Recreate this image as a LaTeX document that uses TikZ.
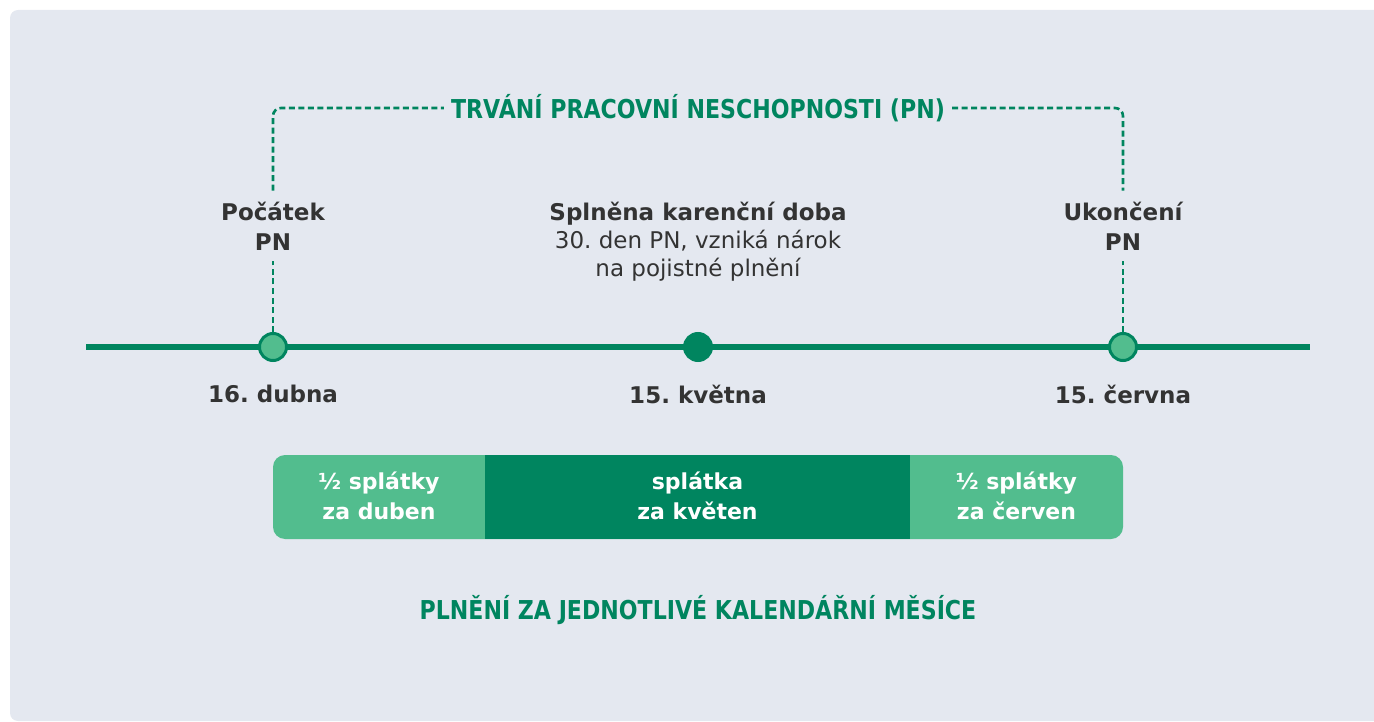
\documentclass[tikz,border=0pt]{standalone}
\usepackage{fontspec}
\setmainfont{DejaVu Sans}
\newfontfamily\headfont{DejaVu Sans}[FakeStretch=0.85]
\usetikzlibrary{positioning}
\definecolor{pnpanel}{HTML}{E4E8F0}
\definecolor{pndark}{HTML}{00855F}
\definecolor{pnlight}{HTML}{52BD8E}
\definecolor{pntext}{HTML}{333333}
\frenchspacing

\begin{document}
\begin{tikzpicture}[x=1pt,y=-1pt,
    dot/.style={circle,draw=pndark,line width=3pt,fill=pnlight,minimum size=27pt,inner sep=0pt},
    lbl/.style={text=pntext,align=center,font=\fontsize{23}{30}\selectfont\bfseries,inner xsep=4pt,inner ysep=11pt},
    datelbl/.style={text=pntext,font=\fontsize{23}{28}\selectfont\bfseries},
    head/.style={text=pndark,font=\headfont\bfseries\fontsize{26}{30}\selectfont,inner xsep=7pt},
    bartxt/.style={text=white,align=center,font=\fontsize{22}{30}\selectfont\bfseries},
    dashline/.style={pndark,line width=2.6pt,dash pattern=on 6pt off 3.5pt}]
    \useasboundingbox (0,0) rectangle (1374,722);
    \clip (0,0) rectangle (1374,722);
    \fill[pnpanel,rounded corners=8pt] (10,10) rectangle (1400,721);
    % time axis
    \coordinate (axisL) at (86,347);
    \coordinate (axisR) at (1310,347);
    \draw[pndark,line width=5.5pt] (axisL) -- (axisR);
    \node[dot] (start) at (273,347) {};
    \node[dot,fill=pndark] (wait) at (698,347) {};
    \node[dot] (stop) at (1123,347) {};
    % labels above the axis
    \node[lbl] (startlbl) at (273,226) {Počátek\\PN};
    \node[lbl] (stoplbl) at (1123,226) {Ukončení\\PN};
    \node[lbl,font=\fontsize{23}{28}\selectfont] (waitlbl) at (698,242) {{\bfseries Splněna karenční doba}\\30. den PN, vzniká nárok\\na pojistné plnění};
    \node[head] (pn) at (698,108) {TRVÁNÍ PRACOVNÍ NESCHOPNOSTI (PN)};
    \draw[dashline] (start.north) -- (startlbl.south);
    \draw[dashline] (stop.north) -- (stoplbl.south);
    \draw[dashline,rounded corners=8pt] (startlbl.north) |- (pn.west);
    \draw[dashline,rounded corners=8pt] (pn.east) -| (stoplbl.north);
    % dates
    \node[datelbl] (startdate) at (273,394) {16. dubna};
    \node[datelbl] (waitdate) at (698,394) {15. května};
    \node[datelbl] (stopdate) at (1123,394) {15. června};
    % payments
    \fill[pnlight,rounded corners=12pt] (273,455) rectangle (1123,539);
    \fill[pndark] (485,455) rectangle (910,539);
    \node[bartxt] (april) at (379,496) {½ splátky\\za duben};
    \node[bartxt] (may) at (697.5,496) {splátka\\za květen};
    \node[bartxt] (june) at (1016.5,496) {½ splátky\\za červen};
    \node[head] (months) at (698,610) {PLNĚNÍ ZA JEDNOTLIVÉ KALENDÁŘNÍ MĚSÍCE};
\end{tikzpicture}
\end{document}
